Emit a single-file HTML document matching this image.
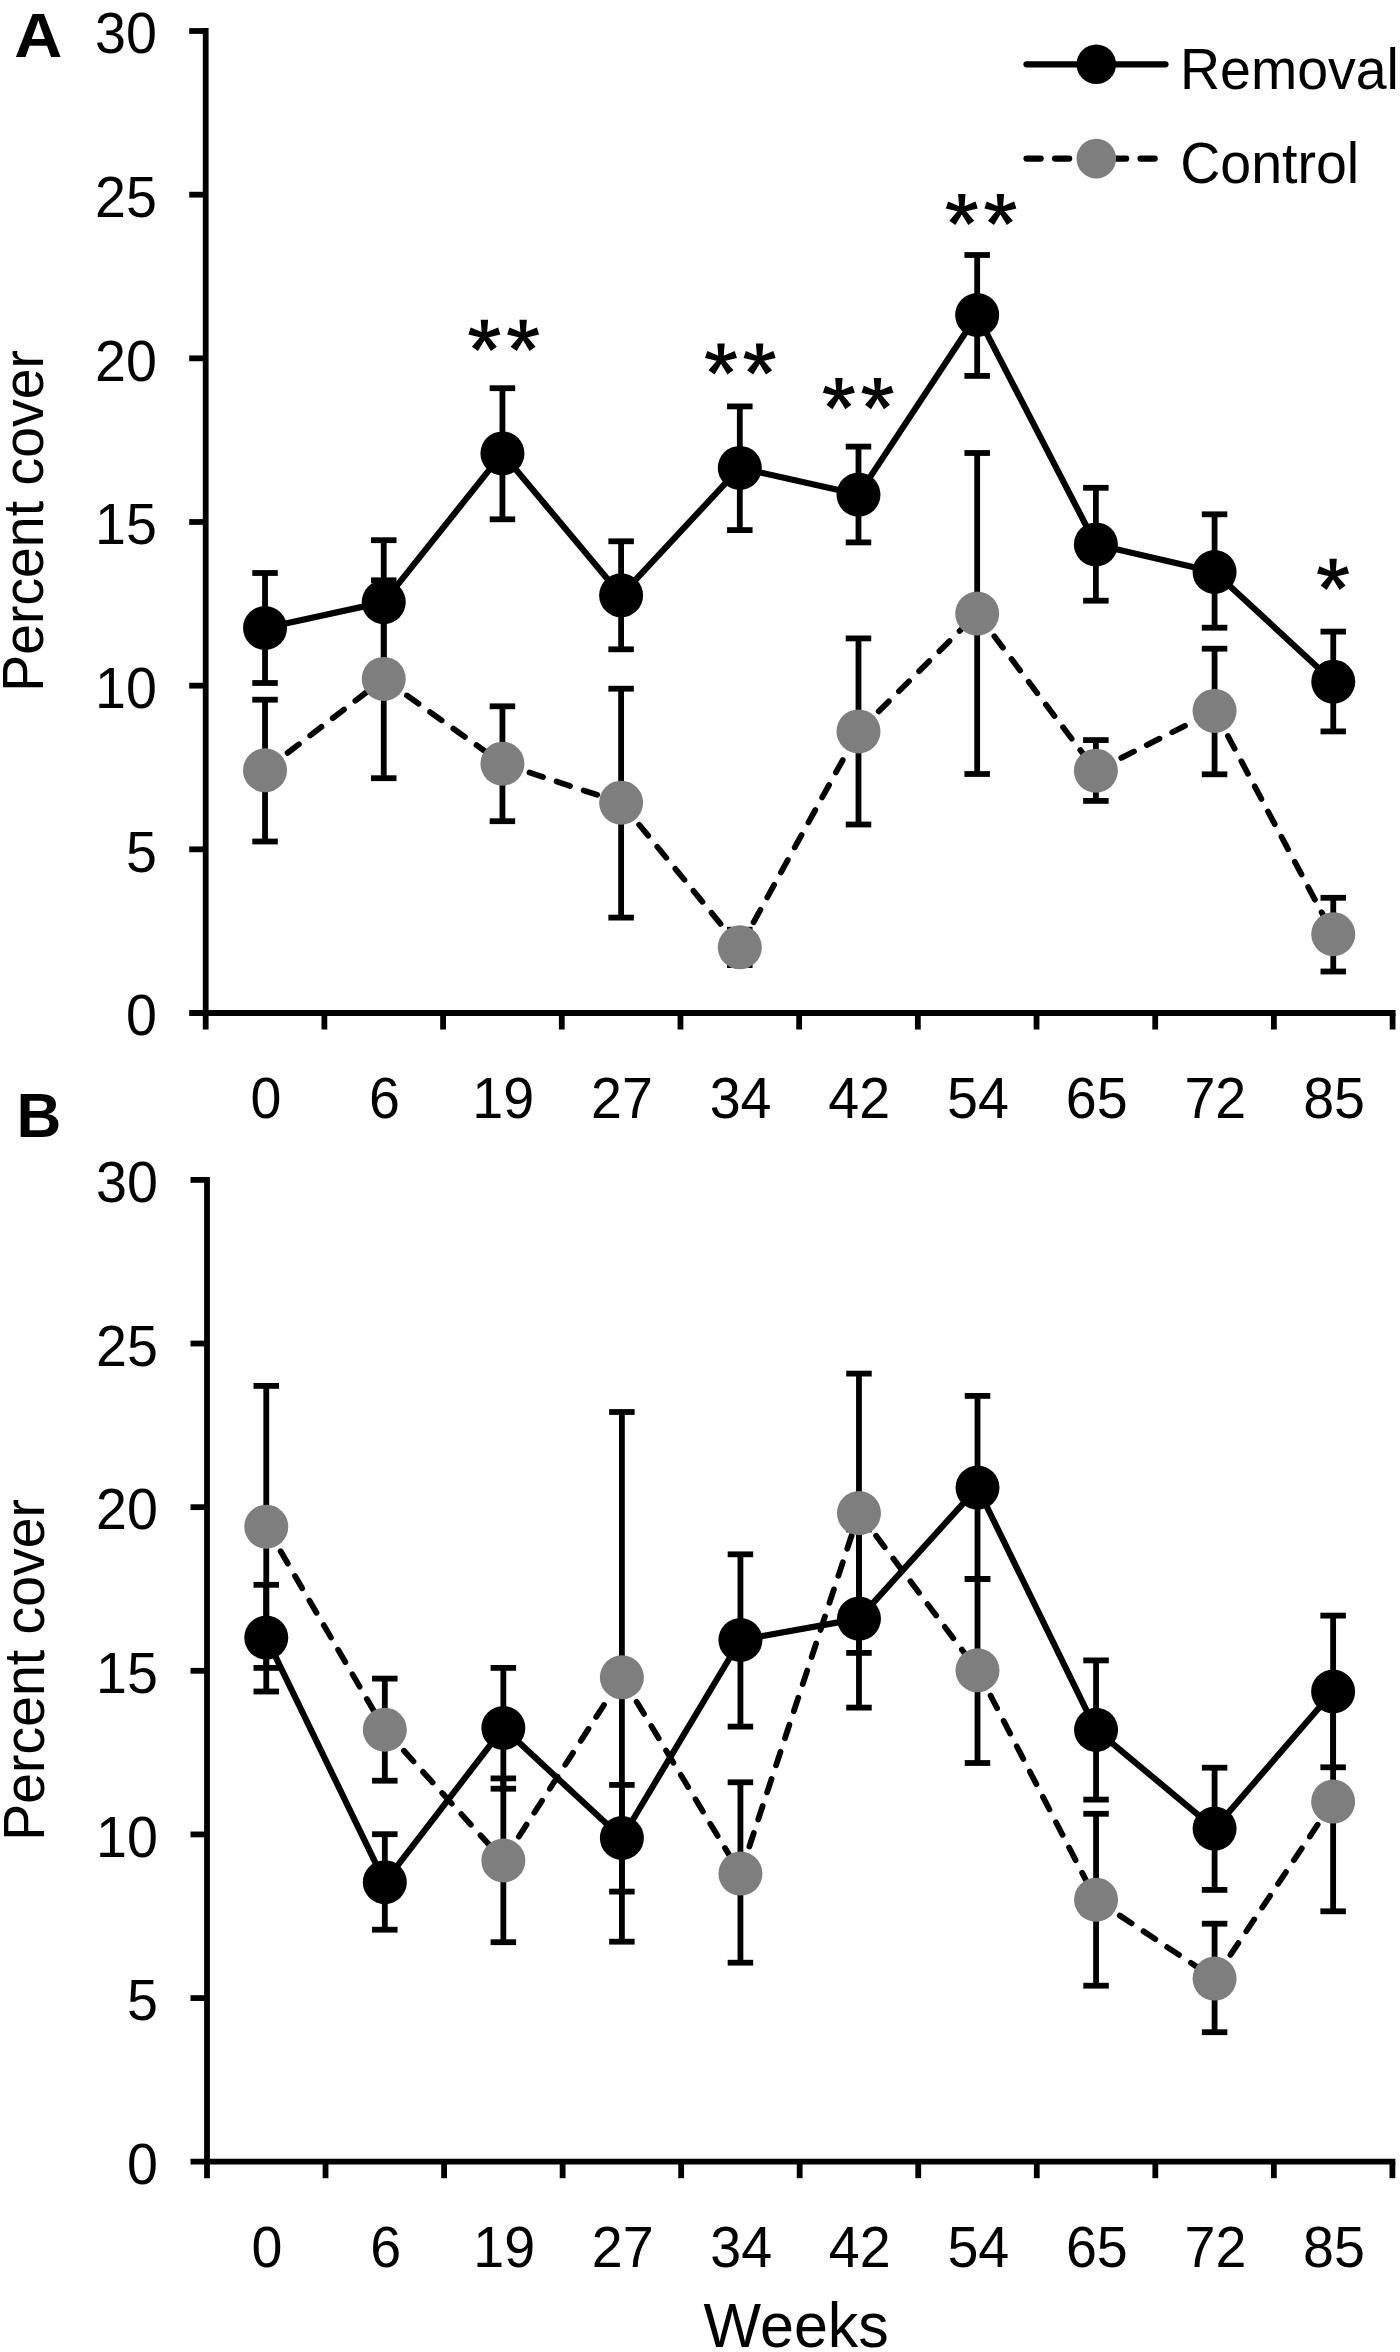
<!DOCTYPE html>
<html>
<head>
<meta charset="utf-8">
<title>Percent cover over weeks: Removal vs Control</title>
<style>
html, body { margin: 0; padding: 0; background: #fff; }
body { width: 1400px; height: 2352px; overflow: hidden; }
svg { display: block; }
text { font-family: "Liberation Sans", sans-serif; fill: #000; }
</style>
</head>
<body>
<svg width="1400" height="2352" viewBox="0 0 1400 2352">
<rect x="0" y="0" width="1400" height="2352" fill="#fff"/>
<line x1="205.7" y1="28.1" x2="205.7" y2="1029.5" stroke="#000" stroke-width="5.8"/>
<line x1="189.2" y1="1013" x2="1395.5" y2="1013" stroke="#000" stroke-width="5.8"/>
<line x1="189.2" y1="849.33" x2="205.7" y2="849.33" stroke="#000" stroke-width="5.8"/>
<line x1="189.2" y1="685.67" x2="205.7" y2="685.67" stroke="#000" stroke-width="5.8"/>
<line x1="189.2" y1="522" x2="205.7" y2="522" stroke="#000" stroke-width="5.8"/>
<line x1="189.2" y1="358.33" x2="205.7" y2="358.33" stroke="#000" stroke-width="5.8"/>
<line x1="189.2" y1="194.67" x2="205.7" y2="194.67" stroke="#000" stroke-width="5.8"/>
<line x1="189.2" y1="31" x2="205.7" y2="31" stroke="#000" stroke-width="5.8"/>
<line x1="324.39" y1="1013" x2="324.39" y2="1029.5" stroke="#000" stroke-width="5.8"/>
<line x1="443.08" y1="1013" x2="443.08" y2="1029.5" stroke="#000" stroke-width="5.8"/>
<line x1="561.77" y1="1013" x2="561.77" y2="1029.5" stroke="#000" stroke-width="5.8"/>
<line x1="680.46" y1="1013" x2="680.46" y2="1029.5" stroke="#000" stroke-width="5.8"/>
<line x1="799.15" y1="1013" x2="799.15" y2="1029.5" stroke="#000" stroke-width="5.8"/>
<line x1="917.84" y1="1013" x2="917.84" y2="1029.5" stroke="#000" stroke-width="5.8"/>
<line x1="1036.53" y1="1013" x2="1036.53" y2="1029.5" stroke="#000" stroke-width="5.8"/>
<line x1="1155.22" y1="1013" x2="1155.22" y2="1029.5" stroke="#000" stroke-width="5.8"/>
<line x1="1273.91" y1="1013" x2="1273.91" y2="1029.5" stroke="#000" stroke-width="5.8"/>
<line x1="1392.6" y1="1013" x2="1392.6" y2="1029.5" stroke="#000" stroke-width="5.8"/>
<path d="M265.04 628 L383.74 602.1 L502.43 453.4 L621.12 595.3 L739.81 467.9 L858.49 494.6 L977.18 315 L1095.88 544.4 L1214.57 572 L1333.26 681.7" fill="none" stroke="#000" stroke-width="6.2" stroke-linejoin="round"/>
<line x1="265.04" y1="573" x2="265.04" y2="683" stroke="#000" stroke-width="5.8"/>
<line x1="252.29" y1="573" x2="277.79" y2="573" stroke="#000" stroke-width="5.8"/>
<line x1="252.29" y1="683" x2="277.79" y2="683" stroke="#000" stroke-width="5.8"/>
<line x1="383.74" y1="540.2" x2="383.74" y2="666" stroke="#000" stroke-width="5.8"/>
<line x1="370.99" y1="540.2" x2="396.49" y2="540.2" stroke="#000" stroke-width="5.8"/>
<line x1="370.99" y1="666" x2="396.49" y2="666" stroke="#000" stroke-width="5.8"/>
<line x1="502.43" y1="388.2" x2="502.43" y2="519.3" stroke="#000" stroke-width="5.8"/>
<line x1="489.68" y1="388.2" x2="515.17" y2="388.2" stroke="#000" stroke-width="5.8"/>
<line x1="489.68" y1="519.3" x2="515.17" y2="519.3" stroke="#000" stroke-width="5.8"/>
<line x1="621.12" y1="541.3" x2="621.12" y2="649.3" stroke="#000" stroke-width="5.8"/>
<line x1="608.37" y1="541.3" x2="633.87" y2="541.3" stroke="#000" stroke-width="5.8"/>
<line x1="608.37" y1="649.3" x2="633.87" y2="649.3" stroke="#000" stroke-width="5.8"/>
<line x1="739.81" y1="406.4" x2="739.81" y2="530.1" stroke="#000" stroke-width="5.8"/>
<line x1="727.06" y1="406.4" x2="752.56" y2="406.4" stroke="#000" stroke-width="5.8"/>
<line x1="727.06" y1="530.1" x2="752.56" y2="530.1" stroke="#000" stroke-width="5.8"/>
<line x1="858.49" y1="446.6" x2="858.49" y2="542.4" stroke="#000" stroke-width="5.8"/>
<line x1="845.74" y1="446.6" x2="871.24" y2="446.6" stroke="#000" stroke-width="5.8"/>
<line x1="845.74" y1="542.4" x2="871.24" y2="542.4" stroke="#000" stroke-width="5.8"/>
<line x1="977.18" y1="255" x2="977.18" y2="375.9" stroke="#000" stroke-width="5.8"/>
<line x1="964.43" y1="255" x2="989.93" y2="255" stroke="#000" stroke-width="5.8"/>
<line x1="964.43" y1="375.9" x2="989.93" y2="375.9" stroke="#000" stroke-width="5.8"/>
<line x1="1095.88" y1="487.8" x2="1095.88" y2="600.7" stroke="#000" stroke-width="5.8"/>
<line x1="1083.12" y1="487.8" x2="1108.62" y2="487.8" stroke="#000" stroke-width="5.8"/>
<line x1="1083.12" y1="600.7" x2="1108.62" y2="600.7" stroke="#000" stroke-width="5.8"/>
<line x1="1214.57" y1="514.3" x2="1214.57" y2="627.7" stroke="#000" stroke-width="5.8"/>
<line x1="1201.82" y1="514.3" x2="1227.32" y2="514.3" stroke="#000" stroke-width="5.8"/>
<line x1="1201.82" y1="627.7" x2="1227.32" y2="627.7" stroke="#000" stroke-width="5.8"/>
<line x1="1333.26" y1="631.6" x2="1333.26" y2="731.4" stroke="#000" stroke-width="5.8"/>
<line x1="1320.51" y1="631.6" x2="1346.01" y2="631.6" stroke="#000" stroke-width="5.8"/>
<line x1="1320.51" y1="731.4" x2="1346.01" y2="731.4" stroke="#000" stroke-width="5.8"/>
<circle cx="265.04" cy="628" r="22" fill="#000"/>
<circle cx="383.74" cy="602.1" r="22" fill="#000"/>
<circle cx="502.43" cy="453.4" r="22" fill="#000"/>
<circle cx="621.12" cy="595.3" r="22" fill="#000"/>
<circle cx="739.81" cy="467.9" r="22" fill="#000"/>
<circle cx="858.49" cy="494.6" r="22" fill="#000"/>
<circle cx="977.18" cy="315" r="22" fill="#000"/>
<circle cx="1095.88" cy="544.4" r="22" fill="#000"/>
<circle cx="1214.57" cy="572" r="22" fill="#000"/>
<circle cx="1333.26" cy="681.7" r="22" fill="#000"/>
<line x1="265.04" y1="770.3" x2="383.74" y2="678.9" stroke="#000" stroke-width="5.8" stroke-dasharray="14.2 14.3" stroke-linecap="round"/>
<line x1="383.74" y1="678.9" x2="502.43" y2="763.7" stroke="#000" stroke-width="5.8" stroke-dasharray="14.2 14.3" stroke-linecap="round"/>
<line x1="502.43" y1="763.7" x2="621.12" y2="802.7" stroke="#000" stroke-width="5.8" stroke-dasharray="14.2 14.3" stroke-linecap="round"/>
<line x1="621.12" y1="802.7" x2="739.81" y2="947.3" stroke="#000" stroke-width="5.8" stroke-dasharray="14.2 14.3" stroke-linecap="round"/>
<line x1="739.81" y1="947.3" x2="858.49" y2="731.4" stroke="#000" stroke-width="5.8" stroke-dasharray="14.2 14.3" stroke-linecap="round"/>
<line x1="858.49" y1="731.4" x2="977.18" y2="613.6" stroke="#000" stroke-width="5.8" stroke-dasharray="14.2 14.3" stroke-linecap="round"/>
<line x1="977.18" y1="613.6" x2="1095.88" y2="770.7" stroke="#000" stroke-width="5.8" stroke-dasharray="14.2 14.3" stroke-linecap="round"/>
<line x1="1095.88" y1="770.7" x2="1214.57" y2="710.9" stroke="#000" stroke-width="5.8" stroke-dasharray="14.2 14.3" stroke-linecap="round"/>
<line x1="1214.57" y1="710.9" x2="1333.26" y2="934.2" stroke="#000" stroke-width="5.8" stroke-dasharray="14.2 14.3" stroke-linecap="round"/>
<line x1="265.04" y1="699.7" x2="265.04" y2="841.5" stroke="#000" stroke-width="5.8"/>
<line x1="252.29" y1="699.7" x2="277.79" y2="699.7" stroke="#000" stroke-width="5.8"/>
<line x1="252.29" y1="841.5" x2="277.79" y2="841.5" stroke="#000" stroke-width="5.8"/>
<line x1="383.74" y1="580.3" x2="383.74" y2="778.2" stroke="#000" stroke-width="5.8"/>
<line x1="370.99" y1="580.3" x2="396.49" y2="580.3" stroke="#000" stroke-width="5.8"/>
<line x1="370.99" y1="778.2" x2="396.49" y2="778.2" stroke="#000" stroke-width="5.8"/>
<line x1="502.43" y1="706.3" x2="502.43" y2="821.2" stroke="#000" stroke-width="5.8"/>
<line x1="489.68" y1="706.3" x2="515.17" y2="706.3" stroke="#000" stroke-width="5.8"/>
<line x1="489.68" y1="821.2" x2="515.17" y2="821.2" stroke="#000" stroke-width="5.8"/>
<line x1="621.12" y1="688.7" x2="621.12" y2="917.6" stroke="#000" stroke-width="5.8"/>
<line x1="608.37" y1="688.7" x2="633.87" y2="688.7" stroke="#000" stroke-width="5.8"/>
<line x1="608.37" y1="917.6" x2="633.87" y2="917.6" stroke="#000" stroke-width="5.8"/>
<line x1="739.81" y1="929.7" x2="739.81" y2="965.1" stroke="#000" stroke-width="5.8"/>
<line x1="727.06" y1="929.7" x2="752.56" y2="929.7" stroke="#000" stroke-width="5.8"/>
<line x1="727.06" y1="965.1" x2="752.56" y2="965.1" stroke="#000" stroke-width="5.8"/>
<line x1="858.49" y1="638.4" x2="858.49" y2="824.5" stroke="#000" stroke-width="5.8"/>
<line x1="845.74" y1="638.4" x2="871.24" y2="638.4" stroke="#000" stroke-width="5.8"/>
<line x1="845.74" y1="824.5" x2="871.24" y2="824.5" stroke="#000" stroke-width="5.8"/>
<line x1="977.18" y1="453" x2="977.18" y2="774" stroke="#000" stroke-width="5.8"/>
<line x1="964.43" y1="453" x2="989.93" y2="453" stroke="#000" stroke-width="5.8"/>
<line x1="964.43" y1="774" x2="989.93" y2="774" stroke="#000" stroke-width="5.8"/>
<line x1="1095.88" y1="740.1" x2="1095.88" y2="800.9" stroke="#000" stroke-width="5.8"/>
<line x1="1083.12" y1="740.1" x2="1108.62" y2="740.1" stroke="#000" stroke-width="5.8"/>
<line x1="1083.12" y1="800.9" x2="1108.62" y2="800.9" stroke="#000" stroke-width="5.8"/>
<line x1="1214.57" y1="648.7" x2="1214.57" y2="774.3" stroke="#000" stroke-width="5.8"/>
<line x1="1201.82" y1="648.7" x2="1227.32" y2="648.7" stroke="#000" stroke-width="5.8"/>
<line x1="1201.82" y1="774.3" x2="1227.32" y2="774.3" stroke="#000" stroke-width="5.8"/>
<line x1="1333.26" y1="897.8" x2="1333.26" y2="971.5" stroke="#000" stroke-width="5.8"/>
<line x1="1320.51" y1="897.8" x2="1346.01" y2="897.8" stroke="#000" stroke-width="5.8"/>
<line x1="1320.51" y1="971.5" x2="1346.01" y2="971.5" stroke="#000" stroke-width="5.8"/>
<circle cx="265.04" cy="770.3" r="22" fill="#7e7e7e"/>
<circle cx="383.74" cy="678.9" r="22" fill="#7e7e7e"/>
<circle cx="502.43" cy="763.7" r="22" fill="#7e7e7e"/>
<circle cx="621.12" cy="802.7" r="22" fill="#7e7e7e"/>
<circle cx="739.81" cy="947.3" r="22" fill="#7e7e7e"/>
<circle cx="858.49" cy="731.4" r="22" fill="#7e7e7e"/>
<circle cx="977.18" cy="613.6" r="22" fill="#7e7e7e"/>
<circle cx="1095.88" cy="770.7" r="22" fill="#7e7e7e"/>
<circle cx="1214.57" cy="710.9" r="22" fill="#7e7e7e"/>
<circle cx="1333.26" cy="934.2" r="22" fill="#7e7e7e"/>
<line x1="207" y1="1177" x2="207" y2="2178.2" stroke="#000" stroke-width="5.8"/>
<line x1="190.5" y1="2161.7" x2="1395.3" y2="2161.7" stroke="#000" stroke-width="5.8"/>
<line x1="190.5" y1="1998.07" x2="207" y2="1998.07" stroke="#000" stroke-width="5.8"/>
<line x1="190.5" y1="1834.43" x2="207" y2="1834.43" stroke="#000" stroke-width="5.8"/>
<line x1="190.5" y1="1670.8" x2="207" y2="1670.8" stroke="#000" stroke-width="5.8"/>
<line x1="190.5" y1="1507.17" x2="207" y2="1507.17" stroke="#000" stroke-width="5.8"/>
<line x1="190.5" y1="1343.53" x2="207" y2="1343.53" stroke="#000" stroke-width="5.8"/>
<line x1="190.5" y1="1179.9" x2="207" y2="1179.9" stroke="#000" stroke-width="5.8"/>
<line x1="325.54" y1="2161.7" x2="325.54" y2="2178.2" stroke="#000" stroke-width="5.8"/>
<line x1="444.08" y1="2161.7" x2="444.08" y2="2178.2" stroke="#000" stroke-width="5.8"/>
<line x1="562.62" y1="2161.7" x2="562.62" y2="2178.2" stroke="#000" stroke-width="5.8"/>
<line x1="681.16" y1="2161.7" x2="681.16" y2="2178.2" stroke="#000" stroke-width="5.8"/>
<line x1="799.7" y1="2161.7" x2="799.7" y2="2178.2" stroke="#000" stroke-width="5.8"/>
<line x1="918.24" y1="2161.7" x2="918.24" y2="2178.2" stroke="#000" stroke-width="5.8"/>
<line x1="1036.78" y1="2161.7" x2="1036.78" y2="2178.2" stroke="#000" stroke-width="5.8"/>
<line x1="1155.32" y1="2161.7" x2="1155.32" y2="2178.2" stroke="#000" stroke-width="5.8"/>
<line x1="1273.86" y1="2161.7" x2="1273.86" y2="2178.2" stroke="#000" stroke-width="5.8"/>
<line x1="1392.4" y1="2161.7" x2="1392.4" y2="2178.2" stroke="#000" stroke-width="5.8"/>
<path d="M266.27 1637.6 L384.81 1882.2 L503.35 1728 L621.89 1838 L740.43 1640 L858.97 1618.6 L977.51 1487.6 L1096.05 1729.8 L1214.59 1828.6 L1333.13 1691.5" fill="none" stroke="#000" stroke-width="6.2" stroke-linejoin="round"/>
<line x1="266.27" y1="1584.8" x2="266.27" y2="1691.5" stroke="#000" stroke-width="5.8"/>
<line x1="253.52" y1="1584.8" x2="279.02" y2="1584.8" stroke="#000" stroke-width="5.8"/>
<line x1="253.52" y1="1691.5" x2="279.02" y2="1691.5" stroke="#000" stroke-width="5.8"/>
<line x1="384.81" y1="1834.2" x2="384.81" y2="1929.7" stroke="#000" stroke-width="5.8"/>
<line x1="372.06" y1="1834.2" x2="397.56" y2="1834.2" stroke="#000" stroke-width="5.8"/>
<line x1="372.06" y1="1929.7" x2="397.56" y2="1929.7" stroke="#000" stroke-width="5.8"/>
<line x1="503.35" y1="1667.9" x2="503.35" y2="1788.7" stroke="#000" stroke-width="5.8"/>
<line x1="490.6" y1="1667.9" x2="516.1" y2="1667.9" stroke="#000" stroke-width="5.8"/>
<line x1="490.6" y1="1788.7" x2="516.1" y2="1788.7" stroke="#000" stroke-width="5.8"/>
<line x1="621.89" y1="1784.9" x2="621.89" y2="1891.6" stroke="#000" stroke-width="5.8"/>
<line x1="609.14" y1="1784.9" x2="634.64" y2="1784.9" stroke="#000" stroke-width="5.8"/>
<line x1="609.14" y1="1891.6" x2="634.64" y2="1891.6" stroke="#000" stroke-width="5.8"/>
<line x1="740.43" y1="1554.3" x2="740.43" y2="1726.6" stroke="#000" stroke-width="5.8"/>
<line x1="727.68" y1="1554.3" x2="753.18" y2="1554.3" stroke="#000" stroke-width="5.8"/>
<line x1="727.68" y1="1726.6" x2="753.18" y2="1726.6" stroke="#000" stroke-width="5.8"/>
<line x1="858.97" y1="1529.5" x2="858.97" y2="1707.6" stroke="#000" stroke-width="5.8"/>
<line x1="846.22" y1="1529.5" x2="871.72" y2="1529.5" stroke="#000" stroke-width="5.8"/>
<line x1="846.22" y1="1707.6" x2="871.72" y2="1707.6" stroke="#000" stroke-width="5.8"/>
<line x1="977.51" y1="1395.9" x2="977.51" y2="1578.9" stroke="#000" stroke-width="5.8"/>
<line x1="964.76" y1="1395.9" x2="990.26" y2="1395.9" stroke="#000" stroke-width="5.8"/>
<line x1="964.76" y1="1578.9" x2="990.26" y2="1578.9" stroke="#000" stroke-width="5.8"/>
<line x1="1096.05" y1="1660.4" x2="1096.05" y2="1799.6" stroke="#000" stroke-width="5.8"/>
<line x1="1083.3" y1="1660.4" x2="1108.8" y2="1660.4" stroke="#000" stroke-width="5.8"/>
<line x1="1083.3" y1="1799.6" x2="1108.8" y2="1799.6" stroke="#000" stroke-width="5.8"/>
<line x1="1214.59" y1="1767.7" x2="1214.59" y2="1889.9" stroke="#000" stroke-width="5.8"/>
<line x1="1201.84" y1="1767.7" x2="1227.34" y2="1767.7" stroke="#000" stroke-width="5.8"/>
<line x1="1201.84" y1="1889.9" x2="1227.34" y2="1889.9" stroke="#000" stroke-width="5.8"/>
<line x1="1333.13" y1="1615.6" x2="1333.13" y2="1767.3" stroke="#000" stroke-width="5.8"/>
<line x1="1320.38" y1="1615.6" x2="1345.88" y2="1615.6" stroke="#000" stroke-width="5.8"/>
<line x1="1320.38" y1="1767.3" x2="1345.88" y2="1767.3" stroke="#000" stroke-width="5.8"/>
<circle cx="266.27" cy="1637.6" r="22" fill="#000"/>
<circle cx="384.81" cy="1882.2" r="22" fill="#000"/>
<circle cx="503.35" cy="1728" r="22" fill="#000"/>
<circle cx="621.89" cy="1838" r="22" fill="#000"/>
<circle cx="740.43" cy="1640" r="22" fill="#000"/>
<circle cx="858.97" cy="1618.6" r="22" fill="#000"/>
<circle cx="977.51" cy="1487.6" r="22" fill="#000"/>
<circle cx="1096.05" cy="1729.8" r="22" fill="#000"/>
<circle cx="1214.59" cy="1828.6" r="22" fill="#000"/>
<circle cx="1333.13" cy="1691.5" r="22" fill="#000"/>
<line x1="266.27" y1="1526.7" x2="384.81" y2="1729.7" stroke="#000" stroke-width="5.8" stroke-dasharray="14.2 14.3" stroke-linecap="round"/>
<line x1="384.81" y1="1729.7" x2="503.35" y2="1860.5" stroke="#000" stroke-width="5.8" stroke-dasharray="14.2 14.3" stroke-linecap="round"/>
<line x1="503.35" y1="1860.5" x2="621.89" y2="1677.3" stroke="#000" stroke-width="5.8" stroke-dasharray="14.2 14.3" stroke-linecap="round"/>
<line x1="621.89" y1="1677.3" x2="740.43" y2="1873.6" stroke="#000" stroke-width="5.8" stroke-dasharray="14.2 14.3" stroke-linecap="round"/>
<line x1="740.43" y1="1873.6" x2="858.97" y2="1513.1" stroke="#000" stroke-width="5.8" stroke-dasharray="14.2 14.3" stroke-linecap="round"/>
<line x1="858.97" y1="1513.1" x2="977.51" y2="1670.3" stroke="#000" stroke-width="5.8" stroke-dasharray="14.2 14.3" stroke-linecap="round"/>
<line x1="977.51" y1="1670.3" x2="1096.05" y2="1899.7" stroke="#000" stroke-width="5.8" stroke-dasharray="14.2 14.3" stroke-linecap="round"/>
<line x1="1096.05" y1="1899.7" x2="1214.59" y2="1978.6" stroke="#000" stroke-width="5.8" stroke-dasharray="14.2 14.3" stroke-linecap="round"/>
<line x1="1214.59" y1="1978.6" x2="1333.13" y2="1801.6" stroke="#000" stroke-width="5.8" stroke-dasharray="14.2 14.3" stroke-linecap="round"/>
<line x1="266.27" y1="1385.9" x2="266.27" y2="1667.9" stroke="#000" stroke-width="5.8"/>
<line x1="253.52" y1="1385.9" x2="279.02" y2="1385.9" stroke="#000" stroke-width="5.8"/>
<line x1="253.52" y1="1667.9" x2="279.02" y2="1667.9" stroke="#000" stroke-width="5.8"/>
<line x1="384.81" y1="1678.6" x2="384.81" y2="1780.7" stroke="#000" stroke-width="5.8"/>
<line x1="372.06" y1="1678.6" x2="397.56" y2="1678.6" stroke="#000" stroke-width="5.8"/>
<line x1="372.06" y1="1780.7" x2="397.56" y2="1780.7" stroke="#000" stroke-width="5.8"/>
<line x1="503.35" y1="1778.4" x2="503.35" y2="1942.2" stroke="#000" stroke-width="5.8"/>
<line x1="490.6" y1="1778.4" x2="516.1" y2="1778.4" stroke="#000" stroke-width="5.8"/>
<line x1="490.6" y1="1942.2" x2="516.1" y2="1942.2" stroke="#000" stroke-width="5.8"/>
<line x1="621.89" y1="1412" x2="621.89" y2="1941.7" stroke="#000" stroke-width="5.8"/>
<line x1="609.14" y1="1412" x2="634.64" y2="1412" stroke="#000" stroke-width="5.8"/>
<line x1="609.14" y1="1941.7" x2="634.64" y2="1941.7" stroke="#000" stroke-width="5.8"/>
<line x1="740.43" y1="1782.3" x2="740.43" y2="1962.7" stroke="#000" stroke-width="5.8"/>
<line x1="727.68" y1="1782.3" x2="753.18" y2="1782.3" stroke="#000" stroke-width="5.8"/>
<line x1="727.68" y1="1962.7" x2="753.18" y2="1962.7" stroke="#000" stroke-width="5.8"/>
<line x1="858.97" y1="1373.6" x2="858.97" y2="1652.9" stroke="#000" stroke-width="5.8"/>
<line x1="846.22" y1="1373.6" x2="871.72" y2="1373.6" stroke="#000" stroke-width="5.8"/>
<line x1="846.22" y1="1652.9" x2="871.72" y2="1652.9" stroke="#000" stroke-width="5.8"/>
<line x1="977.51" y1="1578.9" x2="977.51" y2="1763" stroke="#000" stroke-width="5.8"/>
<line x1="964.76" y1="1578.9" x2="990.26" y2="1578.9" stroke="#000" stroke-width="5.8"/>
<line x1="964.76" y1="1763" x2="990.26" y2="1763" stroke="#000" stroke-width="5.8"/>
<line x1="1096.05" y1="1813.8" x2="1096.05" y2="1985.7" stroke="#000" stroke-width="5.8"/>
<line x1="1083.3" y1="1813.8" x2="1108.8" y2="1813.8" stroke="#000" stroke-width="5.8"/>
<line x1="1083.3" y1="1985.7" x2="1108.8" y2="1985.7" stroke="#000" stroke-width="5.8"/>
<line x1="1214.59" y1="1923.7" x2="1214.59" y2="2032.2" stroke="#000" stroke-width="5.8"/>
<line x1="1201.84" y1="1923.7" x2="1227.34" y2="1923.7" stroke="#000" stroke-width="5.8"/>
<line x1="1201.84" y1="2032.2" x2="1227.34" y2="2032.2" stroke="#000" stroke-width="5.8"/>
<line x1="1333.13" y1="1691.9" x2="1333.13" y2="1911.3" stroke="#000" stroke-width="5.8"/>
<line x1="1320.38" y1="1691.9" x2="1345.88" y2="1691.9" stroke="#000" stroke-width="5.8"/>
<line x1="1320.38" y1="1911.3" x2="1345.88" y2="1911.3" stroke="#000" stroke-width="5.8"/>
<circle cx="266.27" cy="1526.7" r="22" fill="#7e7e7e"/>
<circle cx="384.81" cy="1729.7" r="22" fill="#7e7e7e"/>
<circle cx="503.35" cy="1860.5" r="22" fill="#7e7e7e"/>
<circle cx="621.89" cy="1677.3" r="22" fill="#7e7e7e"/>
<circle cx="740.43" cy="1873.6" r="22" fill="#7e7e7e"/>
<circle cx="858.97" cy="1513.1" r="22" fill="#7e7e7e"/>
<circle cx="977.51" cy="1670.3" r="22" fill="#7e7e7e"/>
<circle cx="1096.05" cy="1899.7" r="22" fill="#7e7e7e"/>
<circle cx="1214.59" cy="1978.6" r="22" fill="#7e7e7e"/>
<circle cx="1333.13" cy="1801.6" r="22" fill="#7e7e7e"/>
<text transform="translate(156.9,1035.2) scale(1.0,1.04)" font-size="55.6" text-anchor="end">0</text>
<text transform="translate(156.9,871.53) scale(1.0,1.04)" font-size="55.6" text-anchor="end">5</text>
<text transform="translate(156.9,707.87) scale(1.0,1.04)" font-size="55.6" text-anchor="end">10</text>
<text transform="translate(156.9,544.2) scale(1.0,1.04)" font-size="55.6" text-anchor="end">15</text>
<text transform="translate(156.9,380.53) scale(1.0,1.04)" font-size="55.6" text-anchor="end">20</text>
<text transform="translate(156.9,216.87) scale(1.0,1.04)" font-size="55.6" text-anchor="end">25</text>
<text transform="translate(156.9,53.2) scale(1.0,1.04)" font-size="55.6" text-anchor="end">30</text>
<text transform="translate(157.9,2183.9) scale(1.0,1.04)" font-size="55.6" text-anchor="end">0</text>
<text transform="translate(157.9,2020.27) scale(1.0,1.04)" font-size="55.6" text-anchor="end">5</text>
<text transform="translate(157.9,1856.63) scale(1.0,1.04)" font-size="55.6" text-anchor="end">10</text>
<text transform="translate(157.9,1693) scale(1.0,1.04)" font-size="55.6" text-anchor="end">15</text>
<text transform="translate(157.9,1529.37) scale(1.0,1.04)" font-size="55.6" text-anchor="end">20</text>
<text transform="translate(157.9,1365.73) scale(1.0,1.04)" font-size="55.6" text-anchor="end">25</text>
<text transform="translate(157.9,1202.1) scale(1.0,1.04)" font-size="55.6" text-anchor="end">30</text>
<text transform="translate(265.84,1117.9) scale(1.0,1.04)" font-size="55.6" text-anchor="middle">0</text>
<text transform="translate(384.54,1117.9) scale(1.0,1.04)" font-size="55.6" text-anchor="middle">6</text>
<text transform="translate(503.23,1117.9) scale(1.0,1.04)" font-size="55.6" text-anchor="middle">19</text>
<text transform="translate(621.91,1117.9) scale(1.0,1.04)" font-size="55.6" text-anchor="middle">27</text>
<text transform="translate(740.61,1117.9) scale(1.0,1.04)" font-size="55.6" text-anchor="middle">34</text>
<text transform="translate(859.29,1117.9) scale(1.0,1.04)" font-size="55.6" text-anchor="middle">42</text>
<text transform="translate(977.98,1117.9) scale(1.0,1.04)" font-size="55.6" text-anchor="middle">54</text>
<text transform="translate(1096.67,1117.9) scale(1.0,1.04)" font-size="55.6" text-anchor="middle">65</text>
<text transform="translate(1215.37,1117.9) scale(1.0,1.04)" font-size="55.6" text-anchor="middle">72</text>
<text transform="translate(1334.06,1117.9) scale(1.0,1.04)" font-size="55.6" text-anchor="middle">85</text>
<text transform="translate(267.07,2266.9) scale(1.0,1.04)" font-size="55.6" text-anchor="middle">0</text>
<text transform="translate(385.61,2266.9) scale(1.0,1.04)" font-size="55.6" text-anchor="middle">6</text>
<text transform="translate(504.15,2266.9) scale(1.0,1.04)" font-size="55.6" text-anchor="middle">19</text>
<text transform="translate(622.69,2266.9) scale(1.0,1.04)" font-size="55.6" text-anchor="middle">27</text>
<text transform="translate(741.23,2266.9) scale(1.0,1.04)" font-size="55.6" text-anchor="middle">34</text>
<text transform="translate(859.77,2266.9) scale(1.0,1.04)" font-size="55.6" text-anchor="middle">42</text>
<text transform="translate(978.31,2266.9) scale(1.0,1.04)" font-size="55.6" text-anchor="middle">54</text>
<text transform="translate(1096.85,2266.9) scale(1.0,1.04)" font-size="55.6" text-anchor="middle">65</text>
<text transform="translate(1215.39,2266.9) scale(1.0,1.04)" font-size="55.6" text-anchor="middle">72</text>
<text transform="translate(1333.93,2266.9) scale(1.0,1.04)" font-size="55.6" text-anchor="middle">85</text>
<text transform="translate(14.3,57.3) scale(1.074,1.012)" font-size="62" text-anchor="start" font-weight="bold">A</text>
<text transform="translate(16.6,1137) scale(1.0,1.012)" font-size="62" text-anchor="start" font-weight="bold">B</text>
<text transform="translate(42.9,691.8) rotate(-90) scale(1.0,1.04)" font-size="55.4" text-anchor="start">Percent cover</text>
<text transform="translate(44.1,1840.7) rotate(-90) scale(1.0,1.04)" font-size="55.4" text-anchor="start">Percent cover</text>
<text transform="translate(703.5,2347.2) scale(1.0,1.04)" font-size="61" text-anchor="start">Weeks</text>
<line x1="1026.5" y1="64.3" x2="1165.5" y2="64.3" stroke="#000" stroke-width="6.2" stroke-linecap="round"/>
<circle cx="1096.3" cy="64.3" r="19.8" fill="#000"/>
<line x1="1026.5" y1="158.6" x2="1160" y2="158.6" stroke="#000" stroke-width="6.2" stroke-dasharray="14.2 14.3" stroke-linecap="round"/>
<circle cx="1096.3" cy="158.6" r="19.8" fill="#7e7e7e"/>
<text transform="translate(1180,88.8) scale(1.0,1.04)" font-size="55.5" text-anchor="start">Removal</text>
<text transform="translate(1180.2,183) scale(1.0,1.04)" font-size="55.5" text-anchor="start">Control</text>
<path d="M486.7 337.3 L488.1 319.8 L480.7 319.8 L482.1 337.3Z M483.68 338.45 L500.38 334.5 L498.09 327.46 L482.26 334.08Z M481.66 335.94 L490.87 351 L496.86 346.65 L485.38 333.23Z M483.42 333.23 L471.94 346.65 L477.93 351 L487.14 335.94Z M486.54 334.08 L470.71 327.46 L468.42 334.5 L485.12 338.45Z" fill="#000"/>
<path d="M525.45 337.3 L526.85 319.8 L519.45 319.8 L520.85 337.3Z M522.43 338.45 L539.13 334.5 L536.84 327.46 L521.01 334.08Z M520.41 335.94 L529.62 351 L535.61 346.65 L524.13 333.23Z M522.17 333.23 L510.69 346.65 L516.68 351 L525.89 335.94Z M525.29 334.08 L509.46 327.46 L507.17 334.5 L523.87 338.45Z" fill="#000"/>
<path d="M723.3 360.9 L724.7 343.4 L717.3 343.4 L718.7 360.9Z M720.28 362.05 L736.98 358.1 L734.69 351.06 L718.86 357.68Z M718.26 359.54 L727.47 374.6 L733.46 370.25 L721.98 356.83Z M720.02 356.83 L708.54 370.25 L714.53 374.6 L723.74 359.54Z M723.14 357.68 L707.31 351.06 L705.02 358.1 L721.72 362.05Z" fill="#000"/>
<path d="M761.9 360.9 L763.3 343.4 L755.9 343.4 L757.3 360.9Z M758.88 362.05 L775.58 358.1 L773.29 351.06 L757.46 357.68Z M756.86 359.54 L766.07 374.6 L772.06 370.25 L760.58 356.83Z M758.62 356.83 L747.14 370.25 L753.13 374.6 L762.34 359.54Z M761.74 357.68 L745.91 351.06 L743.62 358.1 L760.32 362.05Z" fill="#000"/>
<path d="M841.2 395.5 L842.6 378 L835.2 378 L836.6 395.5Z M838.18 396.65 L854.88 392.7 L852.59 385.66 L836.76 392.28Z M836.16 394.14 L845.37 409.2 L851.36 404.85 L839.88 391.43Z M837.92 391.43 L826.44 404.85 L832.43 409.2 L841.64 394.14Z M841.04 392.28 L825.21 385.66 L822.92 392.7 L839.62 396.65Z" fill="#000"/>
<path d="M879.8 395.5 L881.2 378 L873.8 378 L875.2 395.5Z M876.78 396.65 L893.48 392.7 L891.19 385.66 L875.36 392.28Z M874.76 394.14 L883.97 409.2 L889.96 404.85 L878.48 391.43Z M876.52 391.43 L865.04 404.85 L871.03 409.2 L880.24 394.14Z M879.64 392.28 L863.81 385.66 L861.52 392.7 L878.22 396.65Z" fill="#000"/>
<path d="M964.1 211.4 L965.5 193.9 L958.1 193.9 L959.5 211.4Z M961.08 212.55 L977.78 208.6 L975.49 201.56 L959.66 208.18Z M959.06 210.04 L968.27 225.1 L974.26 220.75 L962.78 207.33Z M960.82 207.33 L949.34 220.75 L955.33 225.1 L964.54 210.04Z M963.94 208.18 L948.11 201.56 L945.82 208.6 L962.52 212.55Z" fill="#000"/>
<path d="M1002.7 211.4 L1004.1 193.9 L996.7 193.9 L998.1 211.4Z M999.68 212.55 L1016.38 208.6 L1014.09 201.56 L998.26 208.18Z M997.66 210.04 L1006.87 225.1 L1012.86 220.75 L1001.38 207.33Z M999.42 207.33 L987.94 220.75 L993.93 225.1 L1003.14 210.04Z M1002.54 208.18 L986.71 201.56 L984.42 208.6 L1001.12 212.55Z" fill="#000"/>
<path d="M1335.4 576.2 L1336.8 558.7 L1329.4 558.7 L1330.8 576.2Z M1332.38 577.35 L1349.08 573.4 L1346.79 566.36 L1330.96 572.98Z M1330.36 574.84 L1339.57 589.9 L1345.56 585.55 L1334.08 572.13Z M1332.12 572.13 L1320.64 585.55 L1326.63 589.9 L1335.84 574.84Z M1335.24 572.98 L1319.41 566.36 L1317.12 573.4 L1333.82 577.35Z" fill="#000"/>
</svg>
</body>
</html>
